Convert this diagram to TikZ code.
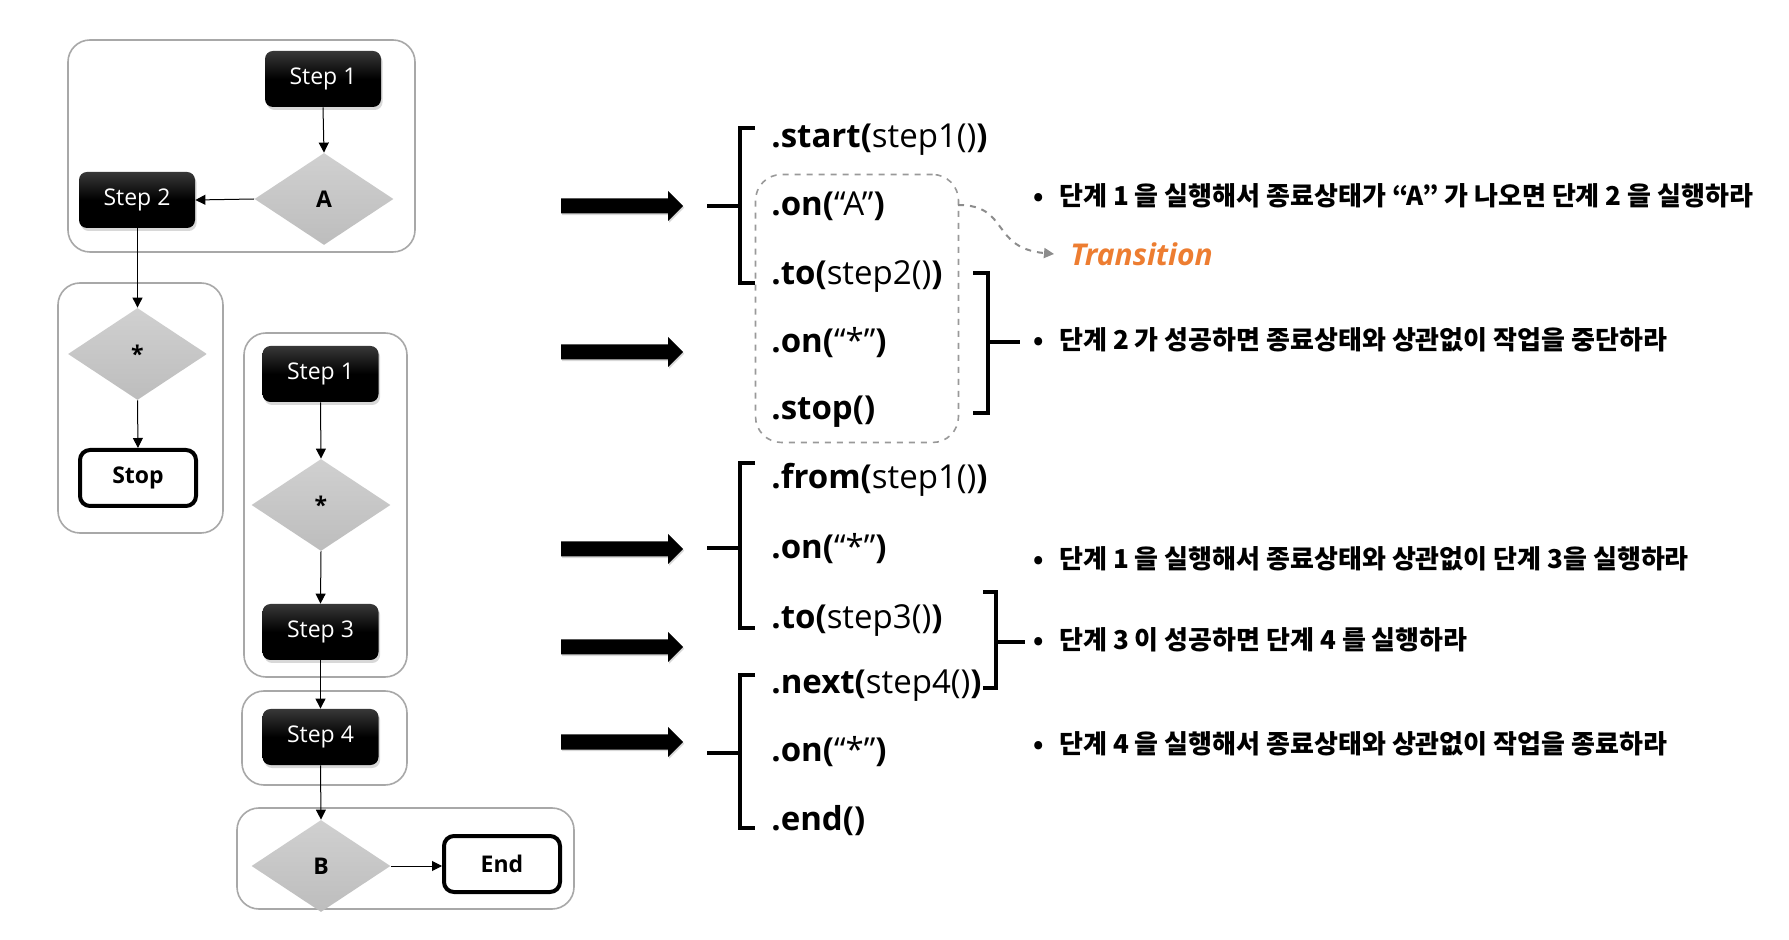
\documentclass[tikz,border=0pt]{standalone}
\usepackage{fontspec}
\setmainfont{Open Sans}
\newfontfamily\kr{Noto Sans CJK KR}
\usetikzlibrary{arrows.meta,shapes.geometric,shadows}
\definecolor{grpgray}{HTML}{A8A8A8}
\definecolor{orng}{HTML}{ED7D31}
\definecolor{diatop}{HTML}{D0D0D0}
\definecolor{diabot}{HTML}{BDBDBD}
\tikzset{
  grp/.style={draw=grpgray, line width=0.8pt, rounded corners=11pt},
  stepbox/.style={rectangle, rounded corners=4pt, minimum width=58pt, minimum height=28pt,
    top color=black!78, bottom color=black, middle color=black, text=white,
    font=\fontsize{11.5}{13}\selectfont,
    drop shadow={opacity=0.3, shadow xshift=0.8pt, shadow yshift=-1.5pt}},
  dia/.style={diamond, top color=diatop, bottom color=diabot, minimum width=69.5pt,
    minimum height=46pt, inner sep=0pt, font=\bfseries\fontsize{11.5}{13}\selectfont},
  termbox/.style={rectangle, draw=black, line width=2pt, rounded corners=5pt, fill=white,
    minimum width=58pt, minimum height=28pt, font=\bfseries\fontsize{11.5}{13}\selectfont},
  conn/.style={-{Triangle[length=5pt,width=5pt]}, line width=0.5pt},
  code/.style={anchor=west, inner sep=0pt, text height=12pt, text depth=0pt,
    font=\fontsize{16.5}{18}\selectfont},
  kor/.style={anchor=west, inner sep=0pt, text height=9.9pt, text depth=0pt,
    font=\kr\bfseries\fontsize{13}{15}\selectfont},
  brk/.style={line width=1.8pt},
  bigarrow/.pic={\fill[black, drop shadow={opacity=0.3, shadow xshift=0.6pt, shadow yshift=-0.8pt}]
    (-60,-7.5) -- (47,-7.5) -- (47,-15) -- (62,0) -- (47,15) -- (47,7.5) -- (-60,7.5) -- cycle;}
}
\begin{document}
\begin{tikzpicture}[x=0.5pt,y=-0.5pt]
\useasboundingbox (0,0) rectangle (1789,940);
\fill[white] (0,0) rectangle (1789,940);

% ---- group containers ----
\draw[grp] (68,40) rectangle (415,252);
\draw[grp] (58,283) rectangle (223,533);
\draw[grp] (244,333) rectangle (407,677);
\draw[grp] (242,691) rectangle (407,785);
\draw[grp] (237,808) rectangle (574,909);

% ---- flowchart nodes ----
\node[stepbox] (s1a) at (323,79) {Step 1};
\node[dia] (dA) at (324,199) {A};
\node[stepbox] (s2) at (137,200) {Step 2};
\node[dia] (dS1) at (137.5,354) {*};
\node[termbox] (stop) at (138,478) {Stop};
\node[stepbox] (s1b) at (320.5,374) {Step 1};
\node[dia] (dS2) at (321,505) {*};
\node[stepbox] (s3) at (320.5,632) {Step 3};
\node[stepbox] (s4) at (320.5,737) {Step 4};
\node[dia] (dB) at (321,866) {B};
\node[termbox] (end) at (502,864) {End};

% ---- flowchart connectors ----
\draw[conn] (s1a.south) -- (dA.north);
\draw[conn] (dA.west) -- (s2.east);
\draw[conn] (dS1.north |- s2.south) -- (dS1.north);
\draw[conn] (dS1.south) -- (stop.north);
\draw[conn] (s1b.south) -- (dS2.north);
\draw[conn] (dS2.south) -- (s3.north);
\draw[conn] (s3.south) -- (s4.north);
\draw[conn] (s4.south) -- (dB.north);
\draw[conn] (dB.east) -- (end.west |- dB.east);

% ---- big arrows ----
\pic at (621,206) {bigarrow};
\pic at (621,352) {bigarrow};
\pic at (621,549) {bigarrow};
\pic at (621,647) {bigarrow};
\pic at (621,742) {bigarrow};

% ---- dashed transition box ----
\node[draw=gray!80, dashed, line width=0.8pt, rounded corners=13pt, minimum width=101.5pt,
  minimum height=134pt, inner sep=0pt] (db) at (857,308.5) {};

% ---- code lines ----
\node[code] (c1) at (771,136) {\textbf{.start(}step1()\textbf{)}};
\node[code] (c2) at (771,204) {\textbf{.on(}“A”\textbf{)}};
\node[code] (c3) at (771,273) {\textbf{.to(}step2()\textbf{)}};
\node[code] (c4) at (771,341) {\textbf{.on(}“*”\textbf{)}};
\node[code] (c5) at (771,408) {\textbf{.stop()}};
\node[code] (c6) at (771,477) {\textbf{.from(}step1()\textbf{)}};
\node[code] (c7) at (771,547) {\textbf{.on(}“*”\textbf{)}};
\node[code] (c8) at (771,617) {\textbf{.to(}step3()\textbf{)}};
\node[code] (c9) at (771,682) {\textbf{.next(}step4()\textbf{)}};
\node[code] (c10) at (771,750) {\textbf{.on(}“*”\textbf{)}};
\node[code] (c11) at (771,818) {\textbf{.end()}};

% ---- brackets ----
\draw[brk] (755,128) -- (740,128) -- (740,283) -- (755,283);
\draw[brk] (707,206) -- (740,206);
\draw[brk] (973,273) -- (988,273) -- (988,413) -- (973,413);
\draw[brk] (988,342) -- (1020,342);
\draw[brk] (755,463) -- (740,463) -- (740,628) -- (755,628);
\draw[brk] (707,548) -- (740,548);
\draw[brk] (983,592) -- (996,592) -- (996,688) -- (983,688);
\draw[brk] (996,642) -- (1025,642);
\draw[brk] (755,675) -- (740,675) -- (740,828) -- (755,828);
\draw[brk] (707,753) -- (740,753);

% ---- descriptions ----
\node[kor] (b1) at (1033,196) {•};
\node[kor] (k1) at (1059,196) {단계 1 을 실행해서 종료상태가 “A” 가 나오면 단계 2 을 실행하라};
\node[kor] (b2) at (1033,340) {•};
\node[kor] (k2) at (1059,340) {단계 2 가 성공하면 종료상태와 상관없이 작업을 중단하라};
\node[kor] (b3) at (1033,559) {•};
\node[kor] (k3) at (1059,559) {단계 1 을 실행해서 종료상태와 상관없이 단계 3을 실행하라};
\node[kor] (b4) at (1033,640) {•};
\node[kor] (k4) at (1059,640) {단계 3 이 성공하면 단계 4 를 실행하라};
\node[kor] (b5) at (1033,744) {•};
\node[kor] (k5) at (1059,744) {단계 4 을 실행해서 종료상태와 상관없이 작업을 종료하라};

% ---- transition label ----
\node[anchor=west, inner sep=0pt, text=orng, font=\bfseries\itshape\fontsize{15}{17}\selectfont] (tr) at (1070,254) {Transition};
\coordinate (tstart) at (958,205);
\draw[gray!90, dashed, line width=1pt, -{Triangle[length=5pt,width=5pt]}]
  (tstart) .. controls (1010,205) and (990,248) .. ([xshift=-8pt]tr.west);
\end{tikzpicture}
\end{document}
